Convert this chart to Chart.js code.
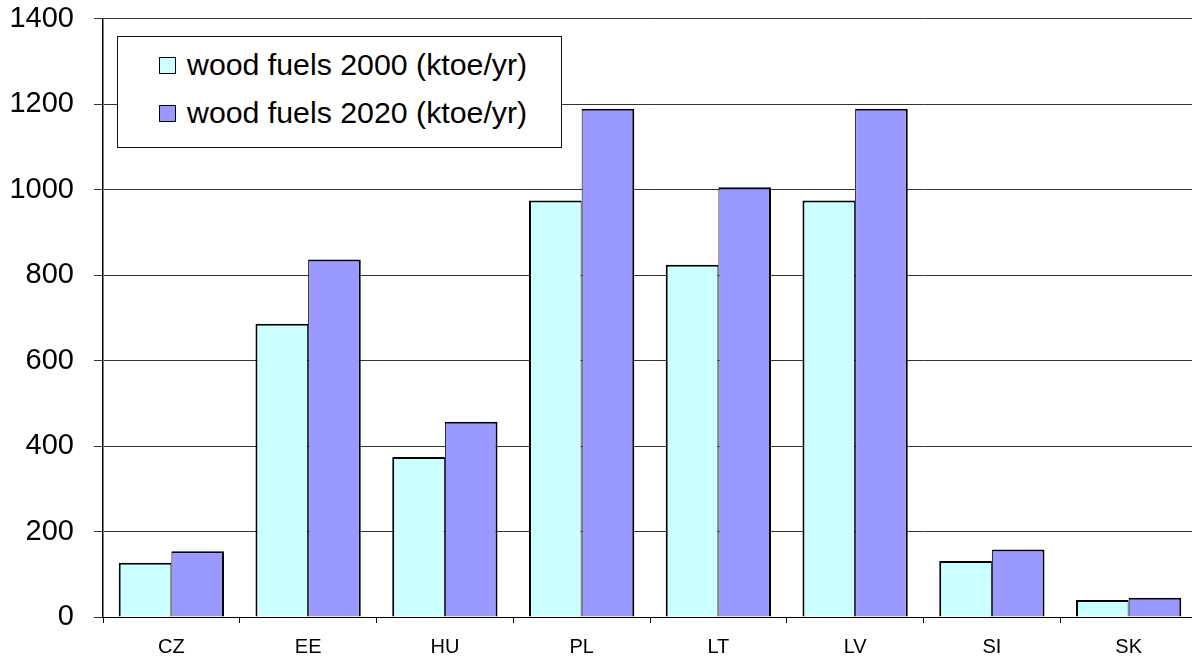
<!DOCTYPE html>
<html>
<head>
<meta charset="utf-8">
<script src="https://cdn.jsdelivr.net/npm/chart.js@4.4.1/dist/chart.umd.min.js"></script>
<style>
  html, body { margin: 0; padding: 0; background: #fff; overflow: hidden; }
  #wrap { position: relative; width: 1197px; height: 659px; }
  #legend {
    position: absolute; left: 117px; top: 36px; width: 443px; height: 110px;
    background: #fff; border: 1px solid #111;
    font-family: "Liberation Sans", Arial, sans-serif; font-size: 30.3px; color: #000;
  }
  .item { position: absolute; left: 41px; display: flex; align-items: center; white-space: nowrap; }
  .sw { width: 15px; height: 15px; border: 1px solid #000; margin-right: 11px; }
</style>
</head>
<body>
<div id="wrap">
  <canvas id="c" width="1197" height="659"></canvas>
  <div id="legend"></div>
</div>
<script>
const countries = ["CZ", "EE", "HU", "PL", "LT", "LV", "SI", "SK"];
const wood2000 = [127, 686, 374, 974, 824, 974, 131, 40];
const wood2020 = [154, 836, 457, 1189, 1005, 1189, 158, 45];
const seriesNames = ["wood fuels 2000 (ktoe/yr)", "wood fuels 2020 (ktoe/yr)"];
const seriesColors = ["#CCFFFF", "#9999FF"];
const yTicks = [0, 200, 400, 600, 800, 1000, 1200, 1400];

const FONT = "'Liberation Sans', Arial, sans-serif";

const chart = new Chart(document.getElementById("c"), {
  type: "bar",
  data: {
    labels: countries,
    datasets: [
      {
        label: seriesNames[0], data: wood2000, backgroundColor: seriesColors[0],
        borderColor: "#000", borderWidth: { left: 2, top: 2, right: 1, bottom: 0 }, borderSkipped: false
      },
      {
        label: seriesNames[1], data: wood2020, backgroundColor: seriesColors[1],
        borderColor: "#000", borderWidth: { left: 1, top: 2, right: 2, bottom: 0 }, borderSkipped: false
      }
    ]
  },
  options: {
    responsive: false,
    animation: false,
    devicePixelRatio: 1,
    layout: { padding: { top: 18.5, right: 0, left: 0, bottom: 0 } },
    datasets: { bar: { categoryPercentage: 0.77, barPercentage: 1.0 } },
    plugins: { legend: { display: false }, tooltip: { enabled: false } },
    scales: {
      x: {
        grid: { display: true, drawOnChartArea: false, drawTicks: true, tickLength: 6, color: "#000", offset: true },
        border: { display: true, color: "#000", width: 1 },
        ticks: { color: "#000", font: { family: FONT, size: 20 }, padding: 12, maxRotation: 0 },
        afterFit: (s) => { s.height = 42; }
      },
      y: {
        min: 0, max: 1400,
        afterBuildTicks: (s) => { s.ticks = yTicks.map(v => ({ value: v })); },
        grid: { color: "#333", lineWidth: 1, drawTicks: true, tickLength: 9 },
        border: { display: true, color: "#000", width: 1.5 },
        ticks: { color: "#000", font: { family: FONT, size: 29 }, padding: 20, callback: (v) => String(v) },
        afterFit: (s) => { s.width = 103; s.paddingTop = 0; s.paddingBottom = 0; }
      }
    }
  }
});

// legend box drawn as HTML over the plot
const legend = document.getElementById("legend");
seriesNames.forEach((name, i) => {
  const it = document.createElement("div");
  it.className = "item";
  it.style.top = (i === 0 ? 11 : 59) + "px";
  const sw = document.createElement("span");
  sw.className = "sw";
  sw.style.background = seriesColors[i];
  const tx = document.createElement("span");
  tx.textContent = name;
  it.appendChild(sw);
  it.appendChild(tx);
  legend.appendChild(it);
});
</script>
</body>
</html>
